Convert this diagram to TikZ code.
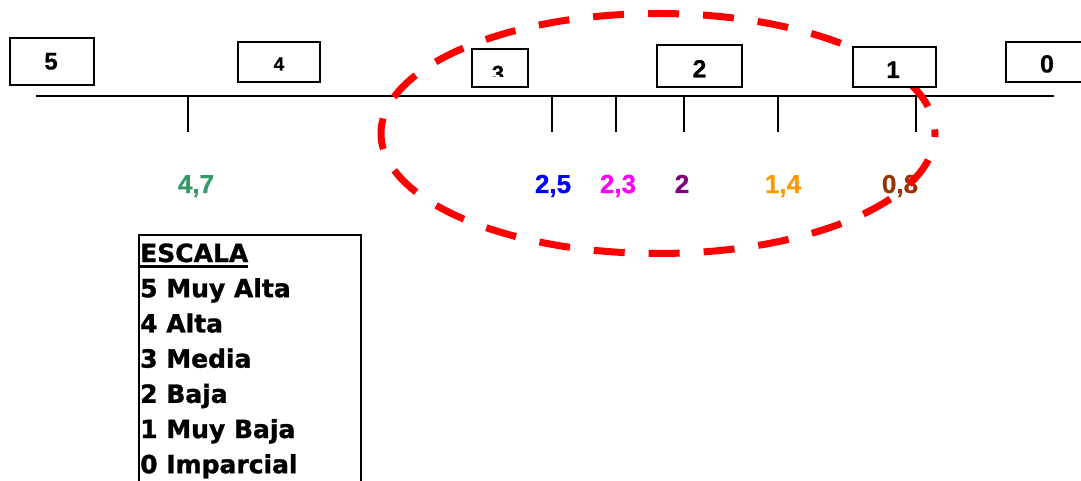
\documentclass[tikz,border=0pt]{standalone}
\usepackage{fontspec}
\newfontfamily\numfont{Liberation Sans}[BoldFeatures={FakeBold=0.6}]
\newfontfamily\legfont{DejaVu Sans}[BoldFeatures={FakeBold=1.2}]
\definecolor{valgreen}{HTML}{339966}
\definecolor{valblue}{HTML}{0000FF}
\definecolor{valmagenta}{HTML}{FF00FF}
\definecolor{valpurple}{HTML}{800080}
\definecolor{valorange}{HTML}{FF9900}
\definecolor{valbrown}{HTML}{993300}
\definecolor{ringred}{HTML}{FF0000}
\tikzset{
  scalebox/.style={draw, line width=1.4pt, fill=white, inner sep=0pt},
  boxnum/.style={font=\numfont\bfseries\fontsize{#1}{#1}\selectfont, anchor=base, inner sep=0pt},
  value/.style={font=\numfont\bfseries\fontsize{26}{26}\selectfont, anchor=base, inner sep=0pt},
  axisline/.style={line width=1.4pt},
  ring/.style={draw=ringred, line width=7pt, dash pattern=on 31pt off 24pt, dash phase=27.5pt},
  legline/.style={font=\legfont\bfseries\fontsize{25}{30}\selectfont, anchor=base west, inner sep=0pt},
}
\begin{document}
\begin{tikzpicture}[x=1pt, y=-1pt]
  \useasboundingbox (0,0) rectangle (1081,481);
  \clip (0,0) rectangle (1081,481);

  % axis and tick marks
  \coordinate (axL) at (36,96);
  \coordinate (axR) at (1054,96);
  \draw[axisline] (axL) -- (axR);
  \foreach \tx/\tn in {188/a, 552/b, 616/c, 684/d, 778/e, 916/f} {
    \coordinate (top\tn) at (\tx,96);
    \coordinate (bot\tn) at (\tx,132);
    \draw[axisline] (top\tn) -- (bot\tn);
  }

  % values under the ticks
  \node[value, text=valgreen]   (v47) at (196,193) {4,7};
  \node[value, text=valblue]    (v25) at (553,193) {2,5};
  \node[value, text=valmagenta] (v23) at (618,193) {2,3};
  \node[value, text=valpurple]  (v20) at (682,193) {2};
  \node[value, text=valorange]  (v14) at (783,193) {1,4};
  \node[value, text=valbrown]   (v08) at (900,193) {0,8};

  % dashed ring around the low range
  \draw[ring] (658,133.5) ellipse [x radius=277, y radius=120];

  % scale boxes
  \node[scalebox, minimum width=84pt, minimum height=47pt] (b5) at (52,61.5) {};
  \node[scalebox, minimum width=82pt, minimum height=40pt] (b4) at (279,62) {};
  \node[scalebox, minimum width=56pt, minimum height=38pt] (b3) at (500,68) {};
  \node[scalebox, minimum width=85pt, minimum height=42pt] (b2) at (699.5,66) {};
  \node[scalebox, minimum width=83pt, minimum height=40pt] (b1) at (894.5,67) {};
  \node[scalebox, minimum width=90pt, minimum height=40pt] (b0) at (1051,62) {};

  \node[boxnum=24]   (t5) at (51,69.5) {5};
  \node[boxnum=19]   (t4) at (279,70.5) {4};
  \begin{scope}
    \clip (472,49) rectangle (528,77);
    \node[boxnum=22] (t3) at (498,81) {3};
  \end{scope}
  \node[boxnum=25]   (t2) at (699.5,77.5) {2};
  \node[boxnum=24]   (t1) at (893,78) {1};
  \node[boxnum=25]   (t0) at (1047,72.5) {0};

  % legend
  \draw[line width=2.6pt, line join=miter] (139,490) -- (139,235) -- (361,235) -- (361,490);
  \node[legline] (l0) at (140,262) {ESCALA};
  \draw[line width=2.4pt] ([yshift=-4.5pt]l0.base west) -- ([yshift=-4.5pt]l0.base east);
  \foreach \txt [count=\i] in {5 Muy Alta, 4 Alta, 3 Media, 2 Baja, 1 Muy Baja, 0 Imparcial} {
    \node[legline] (l\i) at (140,262+35.2*\i) {\txt};
  }
\end{tikzpicture}
\end{document}
